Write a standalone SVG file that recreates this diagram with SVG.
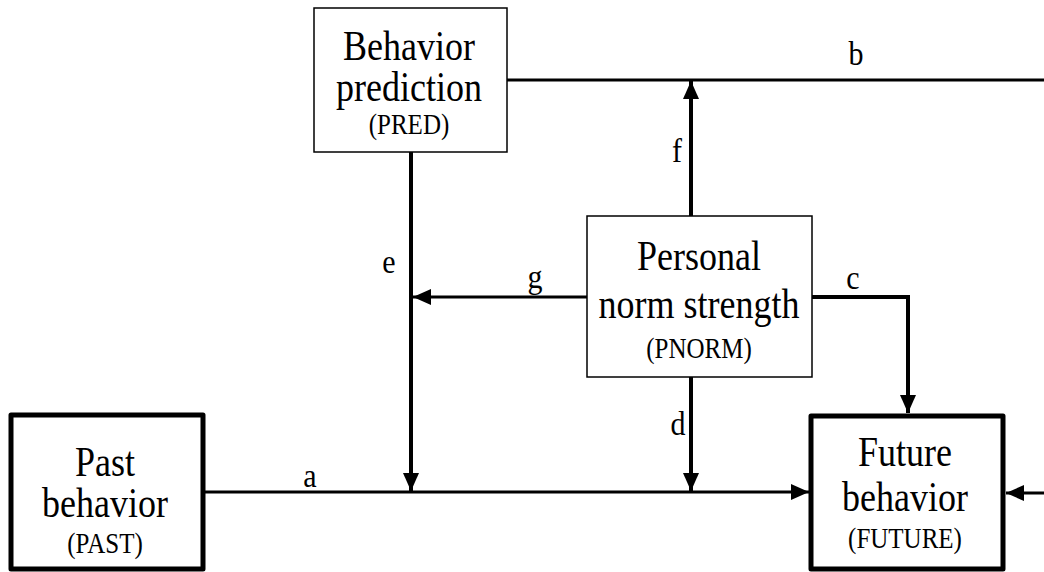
<svg xmlns="http://www.w3.org/2000/svg" width="1044" height="572" viewBox="0 0 1044 572">
<style>
text{font-family:"Liberation Serif","Times New Roman",serif;fill:#000;text-anchor:middle}
.big{font-size:36px}
.small{font-size:25px}
.lbl{font-size:30px}
.thin{fill:#fff;stroke:#000;stroke-width:1.5}
.thick{fill:#fff;stroke:#000;stroke-width:5;stroke-linejoin:round}
.h{fill:none;stroke:#000;stroke-width:3}
.v{fill:none;stroke:#000;stroke-width:4}
</style>
<defs>
<marker id="arr" viewBox="0 0 18 16" refX="18" refY="8" markerWidth="18" markerHeight="16" markerUnits="userSpaceOnUse" orient="auto">
<path d="M0,0 L18,8 L0,16 Z" fill="#000"/>
</marker>
</defs>
<rect width="1044" height="572" fill="#fff"/>
<g id="connectors">
<path class="h" d="M205,492 H809" marker-end="url(#arr)"/>
<path class="v" d="M411,152 V491" marker-end="url(#arr)"/>
<path class="h" d="M587,297 H413" marker-end="url(#arr)"/>
<path class="v" d="M691,216 V81" marker-end="url(#arr)"/>
<path class="h" d="M507,80 H1044"/>
<path class="v" d="M812,297 H908 V413" marker-end="url(#arr)"/>
<path class="v" d="M691,377 V491" marker-end="url(#arr)"/>
<path class="h" d="M1044,493 H1006" marker-end="url(#arr)"/>
<text class="lbl" transform="translate(310,487) scale(1,1.1)">a</text>
<text class="lbl" transform="translate(856,65) scale(1,1.1)">b</text>
<text class="lbl" transform="translate(853,289) scale(1,1.1)">c</text>
<text class="lbl" transform="translate(678,435) scale(1,1.1)">d</text>
<text class="lbl" transform="translate(389,273) scale(1,1.1)">e</text>
<text class="lbl" transform="translate(677,162) scale(1,1.1)">f</text>
<text class="lbl" transform="translate(535,288) scale(1,1.1)">g</text>
</g>
<g id="pred">
<rect class="thin" x="314" y="8" width="193" height="144"/>
<text class="big" transform="translate(409,60) scale(1,1.18)">Behavior</text>
<text class="big" transform="translate(409,101) scale(1,1.18)">prediction</text>
<text class="small" transform="translate(409,134) scale(1,1.18)">(PRED)</text>
</g>
<g id="pnorm">
<rect class="thin" x="587" y="216" width="225" height="161"/>
<text class="big" transform="translate(699,270) scale(1,1.18)">Personal</text>
<text class="big" transform="translate(699,318) scale(1,1.18)">norm strength</text>
<text class="small" transform="translate(699,358) scale(1,1.18)">(PNORM)</text>
</g>
<g id="past">
<rect class="thick" x="11" y="415" width="192" height="154"/>
<text class="big" transform="translate(105,476) scale(1,1.18)">Past</text>
<text class="big" transform="translate(105,517) scale(1,1.18)">behavior</text>
<text class="small" transform="translate(105,553) scale(1,1.18)">(PAST)</text>
</g>
<g id="future">
<rect class="thick" x="811" y="416" width="192" height="153"/>
<text class="big" transform="translate(905,466) scale(1,1.18)">Future</text>
<text class="big" transform="translate(905,511) scale(1,1.18)">behavior</text>
<text class="small" transform="translate(905,548) scale(1,1.18)">(FUTURE)</text>
</g>
</svg>
